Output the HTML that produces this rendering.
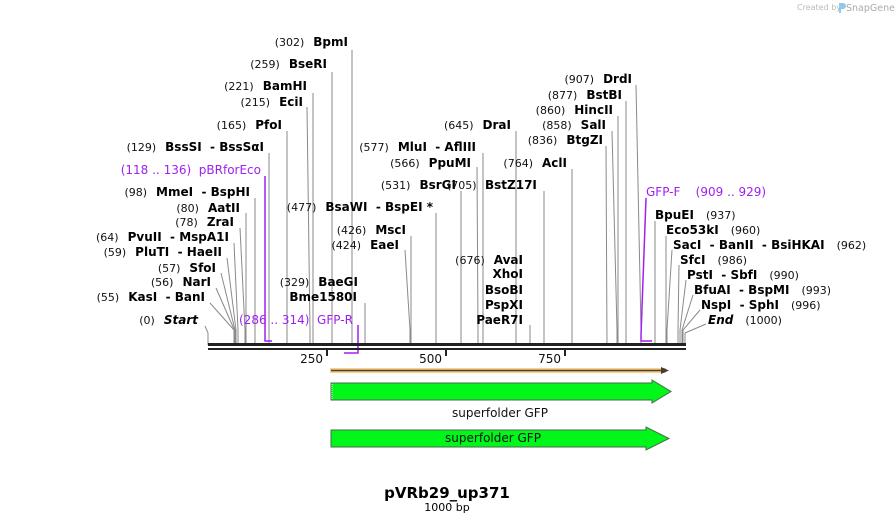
<!DOCTYPE html>
<html><head><meta charset="utf-8"><style>
html,body{margin:0;padding:0;background:#fff;}
svg{display:block;}
text{font-family:"DejaVu Sans","Liberation Sans",sans-serif;white-space:pre;}
.n{font-size:11px;font-weight:normal;fill:#111;}
.b{font-size:12px;font-weight:bold;fill:#000;}
.p{font-size:12px;fill:#a020f0;}
.l{stroke:#8a8a8a;stroke-width:1;fill:none;}
.pl{stroke:#a020f0;stroke-width:1.5;fill:none;}
</style></head><body>
<svg width="895" height="523" viewBox="0 0 895 523" xmlns="http://www.w3.org/2000/svg">
<text x="797" y="10" style="font-size:8px;fill:#bbb">Created by</text>
<path d="M839 3 h4 a3 3 0 0 1 0 6 h-2 v4 h-2z" fill="#8fc8ec"/>
<text x="846" y="11" style="font-size:9.5px;fill:#aaa">SnapGene</text>

<g class="l">
<polyline points="352,50 352,345"/>
<polyline points="332,72 332,345"/>
<polyline points="313,93 313,345"/>
<polyline points="307,107 310,330 310,345"/>
<polyline points="287,131 287,345"/>
<polyline points="269,153 269,345"/>
<polyline points="255,198 255,345"/>
<polyline points="246,213 246,345"/>
<polyline points="240,228 245,330 245,345"/>
<polyline points="234,243 238,330 238,345"/>
<polyline points="227,258 236,330 236,345"/>
<polyline points="221,273 235,330 235,345"/>
<polyline points="216,288 234.4,330 234.4,345"/>
<polyline points="210,303 234,330 234,345"/>
<polyline points="205,326 208,333 208,345"/>
<polyline points="365,303 365,345"/>
<polyline points="483,153 483,345"/>
<polyline points="477,167 478,330 478,345"/>
<polyline points="461,191 461,345"/>
<polyline points="544,191 544,345"/>
<polyline points="436,213 436,345"/>
<polyline points="411,236 411,345"/>
<polyline points="405,250 410,330 410,345"/>
<polyline points="516,131 516,345"/>
<polyline points="572,169 572,345"/>
<polyline points="530,325 530,345"/>
<polyline points="636,85 641,330 641,345"/>
<polyline points="626,101 626,345"/>
<polyline points="618,116 618,345"/>
<polyline points="612,131 617,330 617,345"/>
<polyline points="606,146 607,345"/>
<polyline points="655,221 655,345"/>
<polyline points="666,236 666,345"/>
<polyline points="672,250 667,330 667,345"/>
<polyline points="679,265 678,330 678,345"/>
<polyline points="686,280 680,330 680,345"/>
<polyline points="693,295 682,330 682,345"/>
<polyline points="700,310 683,330 683,345"/>
<polyline points="706,324 685,333 685,345"/>
</g>
<g class="pl">
<polyline points="265,176 265,341 272,341"/>
<polyline points="358,325 358,353 344,353"/>
<polyline points="646,198 641,335 641,341 652,341"/>
</g>

<rect x="208" y="343" width="478" height="3" fill="#222"/>
<rect x="208" y="348" width="478" height="2" fill="#222"/>
<g fill="#222">
<rect x="326" y="350" width="2" height="6"/>
<rect x="445" y="350" width="2" height="6"/>
<rect x="564" y="350" width="2" height="6"/>
</g>
<text x="323" y="363" text-anchor="end" style="font-size:12px;fill:#111">250</text>
<text x="442" y="363" text-anchor="end" style="font-size:12px;fill:#111">500</text>
<text x="561" y="363" text-anchor="end" style="font-size:12px;fill:#111">750</text>

<rect x="330" y="368" width="336" height="5" fill="#f8d08a"/>
<line x1="331" y1="370.5" x2="663" y2="370.5" stroke="#4a3d30" stroke-width="1.5"/>
<path d="M661 367 L669 370.5 L661 374z" fill="#4a3d30"/>
<path d="M331 383 H652 V380 L671 391.5 L652 403 V400 H331z" fill="#00f719" stroke="#4a6a4a" stroke-width="1"/>
<line x1="332" y1="384" x2="332" y2="399" stroke="#fff" stroke-dasharray="1,1"/>
<text x="500" y="417" text-anchor="middle" style="font-size:12px;fill:#111">superfolder GFP</text>
<path d="M331 430 H646 V427 L669 438.5 L646 450 V447 H331z" fill="#00f719" stroke="#4a6a4a" stroke-width="1"/>
<text x="493" y="442" text-anchor="middle" style="font-size:12px;fill:#111">superfolder GFP</text>

<text x="447" y="498" text-anchor="middle" style="font-size:15px;font-weight:bold;fill:#000">pVRb29_up371</text>
<text x="447" y="511" text-anchor="middle" style="font-size:11px;fill:#000">1000 bp</text>

<g text-anchor="end">
<text x="348" y="46"><tspan class="n">(302)</tspan><tspan class="b" dx="9">BpmI</tspan></text>
<text x="327" y="68"><tspan class="n">(259)</tspan><tspan class="b" dx="9">BseRI</tspan></text>
<text x="307" y="90"><tspan class="n">(221)</tspan><tspan class="b" dx="9">BamHI</tspan></text>
<text x="303" y="106"><tspan class="n">(215)</tspan><tspan class="b" dx="9">EciI</tspan></text>
<text x="282" y="129"><tspan class="n">(165)</tspan><tspan class="b" dx="9">PfoI</tspan></text>
<text x="264" y="151"><tspan class="n">(129)</tspan><tspan class="b" dx="9">BssSI  - BssSαI</tspan></text>
<text x="261" y="174" class="p">(118 .. 136)  pBRforEco</text>
<text x="250" y="196"><tspan class="n">(98)</tspan><tspan class="b" dx="9">MmeI  - BspHI</tspan></text>
<text x="240" y="212"><tspan class="n">(80)</tspan><tspan class="b" dx="9">AatII</tspan></text>
<text x="234" y="226"><tspan class="n">(78)</tspan><tspan class="b" dx="9">ZraI</tspan></text>
<text x="229" y="241"><tspan class="n">(64)</tspan><tspan class="b" dx="9">PvuII  - MspA1I</tspan></text>
<text x="222" y="256"><tspan class="n">(59)</tspan><tspan class="b" dx="9">PluTI  - HaeII</tspan></text>
<text x="216" y="272"><tspan class="n">(57)</tspan><tspan class="b" dx="9">SfoI</tspan></text>
<text x="211" y="286"><tspan class="n">(56)</tspan><tspan class="b" dx="9">NarI</tspan></text>
<text x="205" y="301"><tspan class="n">(55)</tspan><tspan class="b" dx="9">KasI  - BanI</tspan></text>
<text x="198" y="324"><tspan class="n">(0)</tspan><tspan class="b" dx="9" font-style="italic">Start</tspan></text>
<text x="358" y="286"><tspan class="n">(329)</tspan><tspan class="b" dx="9">BaeGI</tspan></text>
<text x="357" y="301" class="b">Bme1580I</text>
<text x="476" y="151"><tspan class="n">(577)</tspan><tspan class="b" dx="9">MluI  - AflIII</tspan></text>
<text x="471" y="167"><tspan class="n">(566)</tspan><tspan class="b" dx="9">PpuMI</tspan></text>
<text x="456" y="189"><tspan class="n">(531)</tspan><tspan class="b" dx="9">BsrGI</tspan></text>
<text x="433" y="211"><tspan class="n">(477)</tspan><tspan class="b" dx="9">BsaWI  - BspEI *</tspan></text>
<text x="406" y="234"><tspan class="n">(426)</tspan><tspan class="b" dx="9">MscI</tspan></text>
<text x="399" y="249"><tspan class="n">(424)</tspan><tspan class="b" dx="9">EaeI</tspan></text>
<text x="511" y="129"><tspan class="n">(645)</tspan><tspan class="b" dx="9">DraI</tspan></text>
<text x="567" y="167"><tspan class="n">(764)</tspan><tspan class="b" dx="9">AclI</tspan></text>
<text x="523" y="264"><tspan class="n">(676)</tspan><tspan class="b" dx="9">AvaI</tspan></text>
<text x="523" y="278" class="b">XhoI</text>
<text x="523" y="294" class="b">BsoBI</text>
<text x="523" y="309" class="b">PspXI</text>
<text x="523" y="324" class="b">PaeR7I</text>
<text x="632" y="83"><tspan class="n">(907)</tspan><tspan class="b" dx="9">DrdI</tspan></text>
<text x="622" y="99"><tspan class="n">(877)</tspan><tspan class="b" dx="9">BstBI</tspan></text>
<text x="613" y="114"><tspan class="n">(860)</tspan><tspan class="b" dx="9">HincII</tspan></text>
<text x="606" y="129"><tspan class="n">(858)</tspan><tspan class="b" dx="9">SalI</tspan></text>
<text x="603" y="144"><tspan class="n">(836)</tspan><tspan class="b" dx="9">BtgZI</tspan></text>
</g>
<text x="447" y="189" class="n">(705)</text>
<text x="485" y="189" class="b">BstZ17I</text>
<text x="239" y="324" class="p">(286 .. 314)  GFP-R</text>
<text x="646" y="196" class="p">GFP-F    (909 .. 929)</text>

<text x="655" y="219"><tspan class="b">BpuEI</tspan><tspan class="n" dx="12">(937)</tspan></text>
<text x="666" y="234"><tspan class="b">Eco53kI</tspan><tspan class="n" dx="12">(960)</tspan></text>
<text x="673" y="249"><tspan class="b">SacI  - BanII  - BsiHKAI</tspan><tspan class="n" dx="12">(962)</tspan></text>
<text x="680" y="264"><tspan class="b">SfcI</tspan><tspan class="n" dx="12">(986)</tspan></text>
<text x="687" y="279"><tspan class="b">PstI  - SbfI</tspan><tspan class="n" dx="12">(990)</tspan></text>
<text x="694" y="294"><tspan class="b">BfuAI  - BspMI</tspan><tspan class="n" dx="12">(993)</tspan></text>
<text x="701" y="309"><tspan class="b">NspI  - SphI</tspan><tspan class="n" dx="12">(996)</tspan></text>
<text x="708" y="324"><tspan class="b" font-style="italic">End</tspan><tspan class="n" dx="12">(1000)</tspan></text>
</svg>
</body></html>
